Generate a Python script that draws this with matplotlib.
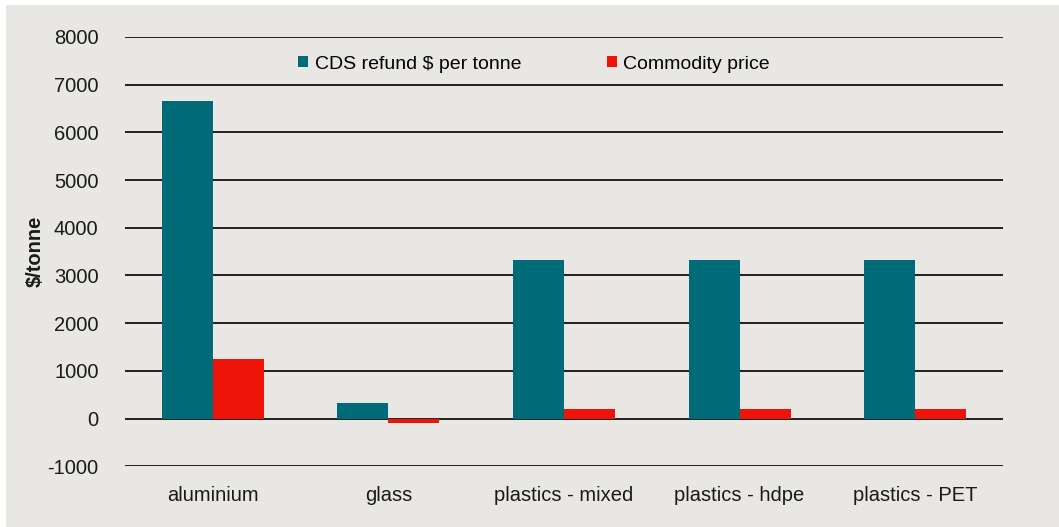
import matplotlib
matplotlib.use("Agg")
import matplotlib.pyplot as plt
import numpy as np
from matplotlib.patches import Rectangle

categories = ["aluminium", "glass", "plastics - mixed", "plastics - hdpe", "plastics - PET"]
cds_refund = [6660, 320, 3330, 3330, 3330]
commodity_price = [1250, -90, 190, 190, 190]
series_names = ["CDS refund $ per tonne", "Commodity price"]
yticks = [-1000, 0, 1000, 2000, 3000, 4000, 5000, 6000, 7000, 8000]

teal = "#006B78"
red = "#EE140A"
bg = "#E8E7E3"

plt.rcParams['font.family'] = ['Liberation Sans', 'DejaVu Sans']

fig = plt.figure(figsize=(10.59, 5.27), dpi=100)
fig.patch.set_facecolor("white")
fig.patches.append(Rectangle((6/1059, 0), 1 - 6/1059, 1 - 5/527,
                             transform=fig.transFigure, facecolor=bg,
                             edgecolor="none", zorder=-10))

ax = fig.add_axes([125/1059, 1 - 466.2/527, (1003 - 125)/1059, (466.2 - 37)/527])
ax.set_facecolor("none")

x = np.arange(len(categories))
w = 0.29
ax.bar(x - w/2, cds_refund, width=w, color=teal, label=series_names[0], zorder=3)
ax.bar(x + w/2, commodity_price, width=w, color=red, label=series_names[1], zorder=3)

fs = 14.5
ax.set_xlim(-0.5, len(categories) - 0.5)
ax.set_ylim(-1000, 8000)
ax.set_yticks(yticks)
ax.set_yticklabels([str(t) for t in yticks], fontsize=fs, color="#1a1a1a")
ax.set_xticks(x)
ax.set_xticklabels(categories, fontsize=fs, color="#1a1a1a")
ax.tick_params(axis='both', length=0)
ax.tick_params(axis='y', pad=19)
ax.tick_params(axis='x', pad=14)
ax.grid(axis='y', color="#111111", linewidth=1.3, zorder=1)
for s in ax.spines.values():
    s.set_visible(False)

ax.set_ylabel("$/tonne", fontsize=fs, fontweight='bold', labelpad=2, color="#1a1a1a")

leg = ax.legend(loc='upper center', bbox_to_anchor=(0.466, 0.997), ncol=2,
                frameon=False, fontsize=14, handlelength=0.5, handleheight=0.5,
                handletextpad=0.35, columnspacing=4.4)

fig.savefig("out.png", dpi=100)
